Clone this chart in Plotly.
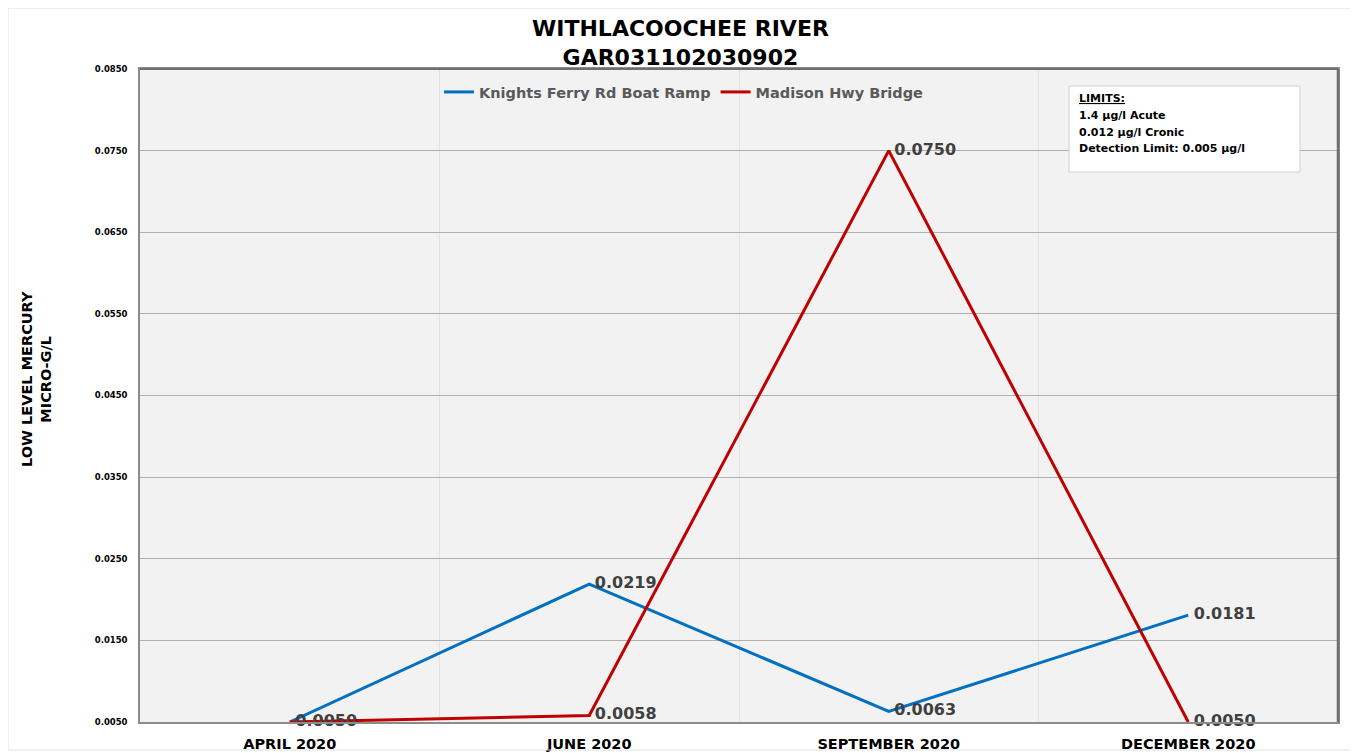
import plotly.graph_objects as go

categories = ["APRIL 2020", "JUNE 2020", "SEPTEMBER 2020", "DECEMBER 2020"]
knights = [0.0050, 0.0219, 0.0063, 0.0181]
madison = [0.0050, 0.0058, 0.0750, 0.0050]
knights_labels = ["", "0.0219", "0.0063", "0.0181"]
madison_labels = ["0.0050", "0.0058", "0.0750", "0.0050"]
limits_lines = ["<u>LIMITS:</u>", "1.4 µg/l Acute", "0.012 µg/l Cronic", "Detection Limit: 0.005 µg/l"]

FONT = "DejaVu Sans"
LBL = dict(family=FONT, size=16, color="#404040", weight="bold")

# plot-area position on screen (page draws the figure offset by 8px)
PL, PR, PT, PB = 140, 1338, 69, 722
OFF = 8
PW, PH = PR - PL, PB - PT

def px(x):
    return (x - PL) / PW

def py(y):
    return (PB - y) / PH

fig = go.Figure()
fig.add_trace(go.Scatter(
    x=categories, y=knights, mode="lines+text", name="Knights Ferry Rd Boat Ramp",
    line=dict(color="#0070C0", width=3), text=[" " + t if t else "" for t in knights_labels],
    textposition="middle right", textfont=LBL, cliponaxis=False))
fig.add_trace(go.Scatter(
    x=categories, y=madison, mode="lines+text", name="Madison Hwy Bridge",
    line=dict(color="#C00000", width=3), text=[" " + t for t in madison_labels],
    textposition="middle right", textfont=LBL, cliponaxis=False))

fig.update_layout(
    width=1358, height=753,
    margin=dict(l=PL - OFF, r=1358 - PR + OFF, t=PT - OFF, b=753 - PB + OFF, autoexpand=False),
    paper_bgcolor="white", plot_bgcolor="#F2F2F2",
    font=dict(family=FONT),
    legend=dict(orientation="h", x=px(684), xanchor="center", y=py(76), yanchor="top",
                bgcolor="rgba(0,0,0,0)", font=dict(family=FONT, size=14.5, color="#595959", weight="bold"),
                tracegroupgap=0),
    showlegend=True,
)
fig.update_xaxes(type="category", tickson="boundaries", showgrid=True, gridcolor="#E3E3E3", gridwidth=1,
                 showline=True, linecolor="#8C8C8C", linewidth=1.5, mirror=True, ticks="",
                 ticklabelstandoff=8, automargin=False,
                 tickfont=dict(family=FONT, size=14.5, color="black", weight="bold"),
                 range=[-0.5, 3.5])
fig.update_yaxes(range=[0.005, 0.085], dtick=0.01, tick0=0.005, tickformat=".4f",
                 showgrid=True, gridcolor="#B0B0B0", gridwidth=1, zeroline=False,
                 showline=True, linecolor="#8C8C8C", linewidth=1.5, mirror=True, ticks="",
                 ticklabelstandoff=9, automargin=False,
                 tickfont=dict(family=FONT, size=8.5, color="black", weight="bold"))

# title
fig.add_annotation(xref="paper", yref="paper", x=px(680), y=py(43), xanchor="center", yanchor="middle",
                   showarrow=False, text="WITHLACOOCHEE RIVER<br>GAR031102030902",
                   font=dict(family=FONT, size=22, color="black", weight="bold"))

# y-axis title
fig.add_annotation(xref="paper", yref="paper", x=px(36), y=py(379), xanchor="center", yanchor="middle",
                   textangle=-90, showarrow=False, text="LOW LEVEL MERCURY<br>MICRO-G/L",
                   font=dict(family=FONT, size=14.5, color="black", weight="bold"))

# top and right darker border
fig.add_shape(type="line", xref="paper", yref="paper", x0=0, x1=1, y0=1, y1=1,
              line=dict(color="#6E6E6E", width=2))
fig.add_shape(type="line", xref="paper", yref="paper", x0=1, x1=1, y0=0, y1=1,
              line=dict(color="#6E6E6E", width=2.5))

# outer chart border
fig.add_shape(type="rect", xref="paper", yref="paper",
              x0=px(8), x1=px(1351), y0=py(750), y1=py(8),
              line=dict(color="#E0E0E0", width=1))

# limits box
fig.add_shape(type="rect", xref="paper", yref="paper",
              x0=px(1069), x1=px(1300), y0=py(172), y1=py(86),
              fillcolor="white", line=dict(color="#D0D0D0", width=1))
for i, line in enumerate(limits_lines):
    fig.add_annotation(xref="paper", yref="paper", x=px(1077), y=py(98 + 17 * i),
                       xanchor="left", yanchor="middle", align="left", showarrow=False,
                       text=line, font=dict(family=FONT, size=11, color="black", weight="bold"))

fig.write_html("out.html")
